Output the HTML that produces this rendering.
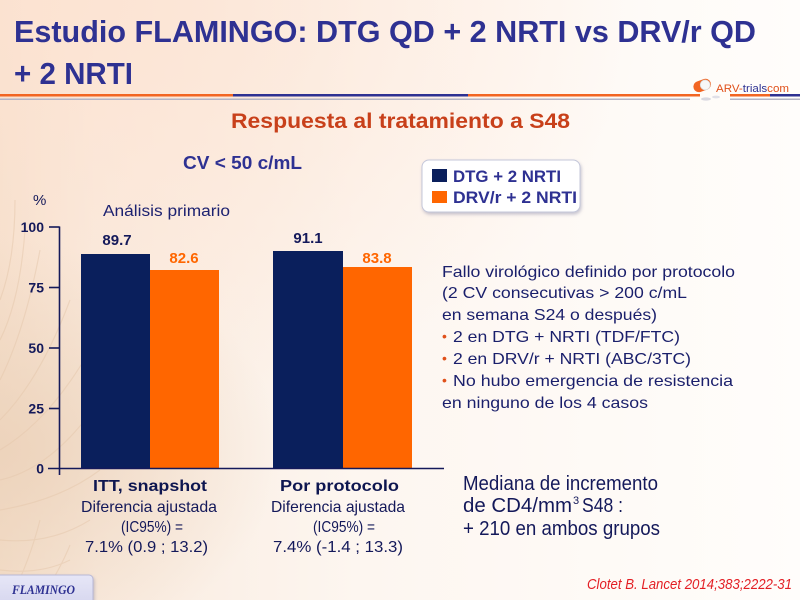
<!DOCTYPE html>
<html>
<head>
<meta charset="utf-8">
<style>
  html,body{margin:0;padding:0;width:800px;height:600px;overflow:hidden;background:#fff;}
  svg{display:block;}
  .t{font-family:"Liberation Sans",Arial,sans-serif;}
</style>
</head>
<body>
<svg width="800" height="600" viewBox="0 0 800 600" xmlns="http://www.w3.org/2000/svg">
  <defs>
    <linearGradient id="bgH" x1="0" y1="0" x2="1" y2="0">
      <stop offset="0" stop-color="#f4dfcb"/>
      <stop offset="0.12" stop-color="#f9ebdf"/>
      <stop offset="0.45" stop-color="#fdf6f0"/>
      <stop offset="1" stop-color="#fffdfb"/>
    </linearGradient>
    <radialGradient id="topPeach" cx="0.1" cy="0" r="0.7">
      <stop offset="0" stop-color="#fde3d2" stop-opacity="0.9"/>
      <stop offset="1" stop-color="#fde3d2" stop-opacity="0"/>
    </radialGradient>
    <radialGradient id="feather" cx="0" cy="0.75" r="0.35">
      <stop offset="0" stop-color="#ecd2ba" stop-opacity="0.9"/>
      <stop offset="1" stop-color="#ecd2ba" stop-opacity="0"/>
    </radialGradient>
    <linearGradient id="footBox" x1="0" y1="0" x2="0" y2="1">
      <stop offset="0" stop-color="#e6e6f7"/>
      <stop offset="1" stop-color="#d6d6ee"/>
    </linearGradient>
    <filter id="sh" x="-10%" y="-10%" width="130%" height="140%">
      <feDropShadow dx="1" dy="2" stdDeviation="1.5" flood-color="#8080a0" flood-opacity="0.45"/>
    </filter>
  </defs>

  <!-- background -->
  <rect x="0" y="0" width="800" height="600" fill="url(#bgH)"/>
  <rect x="0" y="0" width="800" height="600" fill="url(#topPeach)"/>
  <rect x="0" y="0" width="800" height="600" fill="url(#feather)"/>
  <!-- faint feather streaks -->
  <g stroke="#e6c9ae" stroke-width="1.2" fill="none" opacity="0.55">
    <path d="M0 420 Q40 380 70 300"/>
    <path d="M0 450 Q50 420 90 350"/>
    <path d="M0 480 Q45 470 85 420"/>
    <path d="M0 510 Q60 500 100 470"/>
    <path d="M0 540 Q50 545 90 520"/>
    <path d="M0 570 Q40 575 70 560"/>
    <path d="M10 600 Q30 560 40 520"/>
    <path d="M40 600 Q60 570 70 545"/>
    <path d="M0 380 Q25 330 40 250"/>
    <path d="M0 340 Q20 300 25 230"/>
    <path d="M0 300 Q15 260 15 200"/>
  </g>

  <!-- title -->
  <text class="t" x="14" y="42" font-size="31" font-weight="bold" fill="#2e3192" textLength="742" lengthAdjust="spacingAndGlyphs">Estudio FLAMINGO: DTG QD + 2 NRTI vs DRV/r QD</text>
  <text class="t" x="14" y="84" font-size="31" font-weight="bold" fill="#2e3192" textLength="119" lengthAdjust="spacingAndGlyphs">+ 2 NRTI</text>

  <!-- header lines -->
  <rect x="0" y="94" width="233" height="2.5" fill="#f26522"/>
  <rect x="233" y="94" width="235" height="2.5" fill="#2e3192"/>
  <rect x="468" y="94" width="232" height="2.5" fill="#f26522"/>
  <rect x="730" y="94" width="40" height="2.5" fill="#f26522"/>
  <rect x="770" y="94" width="30" height="2.5" fill="#2e3192"/>
  <rect x="0" y="98.5" width="690" height="1.5" fill="#b4b4c4"/>
  <rect x="730" y="98.5" width="70" height="1.5" fill="#b4b4c4"/>

  <!-- logo -->
  <g>
    <rect x="693" y="80" width="18" height="11" rx="5.5" fill="#f26522" transform="rotate(-20 702 85)"/>
    <rect x="700" y="81" width="10" height="10" rx="5" fill="#f7f7f7" stroke="#d0d0d0" stroke-width="0.6" transform="rotate(-20 702 85)"/>
    <ellipse cx="706" cy="99" rx="5" ry="1.6" fill="#d8d8e0"/>
    <ellipse cx="716" cy="97" rx="4" ry="1.4" fill="#e0e0e8"/>
    <text class="t" x="716" y="92" font-size="11" textLength="73" lengthAdjust="spacingAndGlyphs"><tspan fill="#e0501a">ARV-</tspan><tspan fill="#2e3192">trials</tspan><tspan fill="#e0501a">com</tspan></text>
  </g>

  <!-- subtitle -->
  <text class="t" x="231" y="128" font-size="21" font-weight="bold" fill="#c8401a" textLength="339" lengthAdjust="spacingAndGlyphs">Respuesta al tratamiento a S48</text>

  <!-- CV < 50 -->
  <text class="t" x="183" y="169" font-size="18" font-weight="bold" fill="#2e3192" textLength="119" lengthAdjust="spacingAndGlyphs">CV &lt; 50 c/mL</text>

  <!-- legend -->
  <rect x="422" y="160" width="158" height="52" rx="7" fill="#ffffff" stroke="#c4c7da" stroke-width="1" filter="url(#sh)"/>
  <rect x="432" y="169" width="15" height="13" fill="#0a1f5c"/>
  <rect x="432" y="191" width="15" height="12" fill="#ff6600"/>
  <text class="t" x="453" y="182" font-size="17" font-weight="bold" fill="#2e3192" textLength="108" lengthAdjust="spacingAndGlyphs">DTG + 2 NRTI</text>
  <text class="t" x="453" y="203" font-size="17" font-weight="bold" fill="#2e3192" textLength="124" lengthAdjust="spacingAndGlyphs">DRV/r + 2 NRTI</text>

  <!-- chart -->
  <text class="t" x="33" y="205" font-size="15" fill="#14195a">%</text>
  <text class="t" x="103" y="216" font-size="15.5" fill="#1d2270" textLength="127" lengthAdjust="spacingAndGlyphs">Análisis primario</text>

  <!-- bars -->
  <rect x="81" y="254" width="69" height="214.5" fill="#0a1f5c"/>
  <rect x="150" y="270" width="69" height="198.5" fill="#ff6600"/>
  <rect x="273" y="251" width="70" height="217.5" fill="#0a1f5c"/>
  <rect x="343" y="267" width="69" height="201.5" fill="#ff6600"/>

  <!-- axes -->
  <g stroke="#14195a" stroke-width="1.6" fill="none">
    <line x1="59.5" y1="226.5" x2="59.5" y2="475"/>
    <line x1="48" y1="468.5" x2="444" y2="468.5"/>
    <line x1="49" y1="227" x2="59.5" y2="227"/>
    <line x1="49" y1="287.5" x2="59.5" y2="287.5"/>
    <line x1="49" y1="348" x2="59.5" y2="348"/>
    <line x1="49" y1="408.5" x2="59.5" y2="408.5"/>
  </g>
  <g class="t" font-size="14" font-weight="bold" fill="#14195a" text-anchor="end">
    <text x="44" y="232">100</text>
    <text x="44" y="292.5">75</text>
    <text x="44" y="353">50</text>
    <text x="44" y="413.5">25</text>
    <text x="44" y="473.5">0</text>
  </g>

  <!-- value labels -->
  <g class="t" font-size="15" font-weight="bold" text-anchor="middle">
    <text x="117" y="245" fill="#14195a">89.7</text>
    <text x="184" y="263" fill="#ff6600">82.6</text>
    <text x="308" y="243" fill="#14195a">91.1</text>
    <text x="377" y="263" fill="#ff6600">83.8</text>
  </g>

  <!-- category labels -->
  <text class="t" x="93" y="491" font-size="16" font-weight="bold" fill="#0e1650" textLength="114" lengthAdjust="spacingAndGlyphs">ITT, snapshot</text>
  <text class="t" x="280" y="491" font-size="16" font-weight="bold" fill="#0e1650" textLength="119" lengthAdjust="spacingAndGlyphs">Por protocolo</text>

  <g class="t" font-size="16" fill="#14195a">
    <text x="81" y="512" textLength="136" lengthAdjust="spacingAndGlyphs">Diferencia ajustada</text>
    <text x="121" y="532" textLength="62" lengthAdjust="spacingAndGlyphs">(IC95%) =</text>
    <text x="85" y="552" textLength="123" lengthAdjust="spacingAndGlyphs">7.1% (0.9 ; 13.2)</text>
    <text x="271" y="512" textLength="134" lengthAdjust="spacingAndGlyphs">Diferencia ajustada</text>
    <text x="313" y="532" textLength="62" lengthAdjust="spacingAndGlyphs">(IC95%) =</text>
    <text x="273" y="552" textLength="130" lengthAdjust="spacingAndGlyphs">7.4% (-1.4 ; 13.3)</text>
  </g>

  <!-- right text block -->
  <g class="t" font-size="16" fill="#1a1f6b">
    <text x="442" y="277" textLength="293" lengthAdjust="spacingAndGlyphs">Fallo virológico definido por protocolo</text>
    <text x="442" y="298" textLength="245" lengthAdjust="spacingAndGlyphs">(2 CV consecutivas &gt; 200 c/mL</text>
    <text x="442" y="320" textLength="215" lengthAdjust="spacingAndGlyphs">en semana S24 o después)</text>
    <text x="453" y="342" textLength="227" lengthAdjust="spacingAndGlyphs">2 en DTG + NRTI (TDF/FTC)</text>
    <text x="453" y="364" textLength="238" lengthAdjust="spacingAndGlyphs">2 en DRV/r + NRTI (ABC/3TC)</text>
    <text x="453" y="386" textLength="280" lengthAdjust="spacingAndGlyphs">No hubo emergencia de resistencia</text>
    <text x="442" y="408" textLength="206" lengthAdjust="spacingAndGlyphs">en ninguno de los 4 casos</text>
  </g>
  <g class="t" font-size="14" fill="#e0501a">
    <text x="442" y="341">•</text>
    <text x="442" y="363">•</text>
    <text x="442" y="385">•</text>
  </g>

  <!-- mediana block -->
  <g class="t" font-size="20" fill="#14195a">
    <text x="463" y="490" textLength="195" lengthAdjust="spacingAndGlyphs">Mediana de incremento</text>
    <text x="463" y="512" textLength="109" lengthAdjust="spacingAndGlyphs">de  CD4/mm</text>
    <text x="573" y="504" font-size="11">3</text>
    <text x="582" y="512" textLength="41" lengthAdjust="spacingAndGlyphs">S48 :</text>
    <text x="463" y="535" textLength="197" lengthAdjust="spacingAndGlyphs">+ 210 en ambos grupos</text>
  </g>

  <!-- footer -->
  <rect x="-4" y="575" width="97" height="30" rx="4" fill="url(#footBox)" stroke="#b8b8d6" stroke-width="1" filter="url(#sh)"/>
  <text x="12" y="594" font-family="'Liberation Serif',serif" font-size="13" font-weight="bold" font-style="italic" fill="#2e3192" textLength="63" lengthAdjust="spacingAndGlyphs">FLAMINGO</text>

  <text class="t" x="587" y="589" font-size="15" font-style="italic" fill="#e31e24" textLength="205" lengthAdjust="spacingAndGlyphs">Clotet B. Lancet 2014;383;2222-31</text>
</svg>
</body>
</html>
